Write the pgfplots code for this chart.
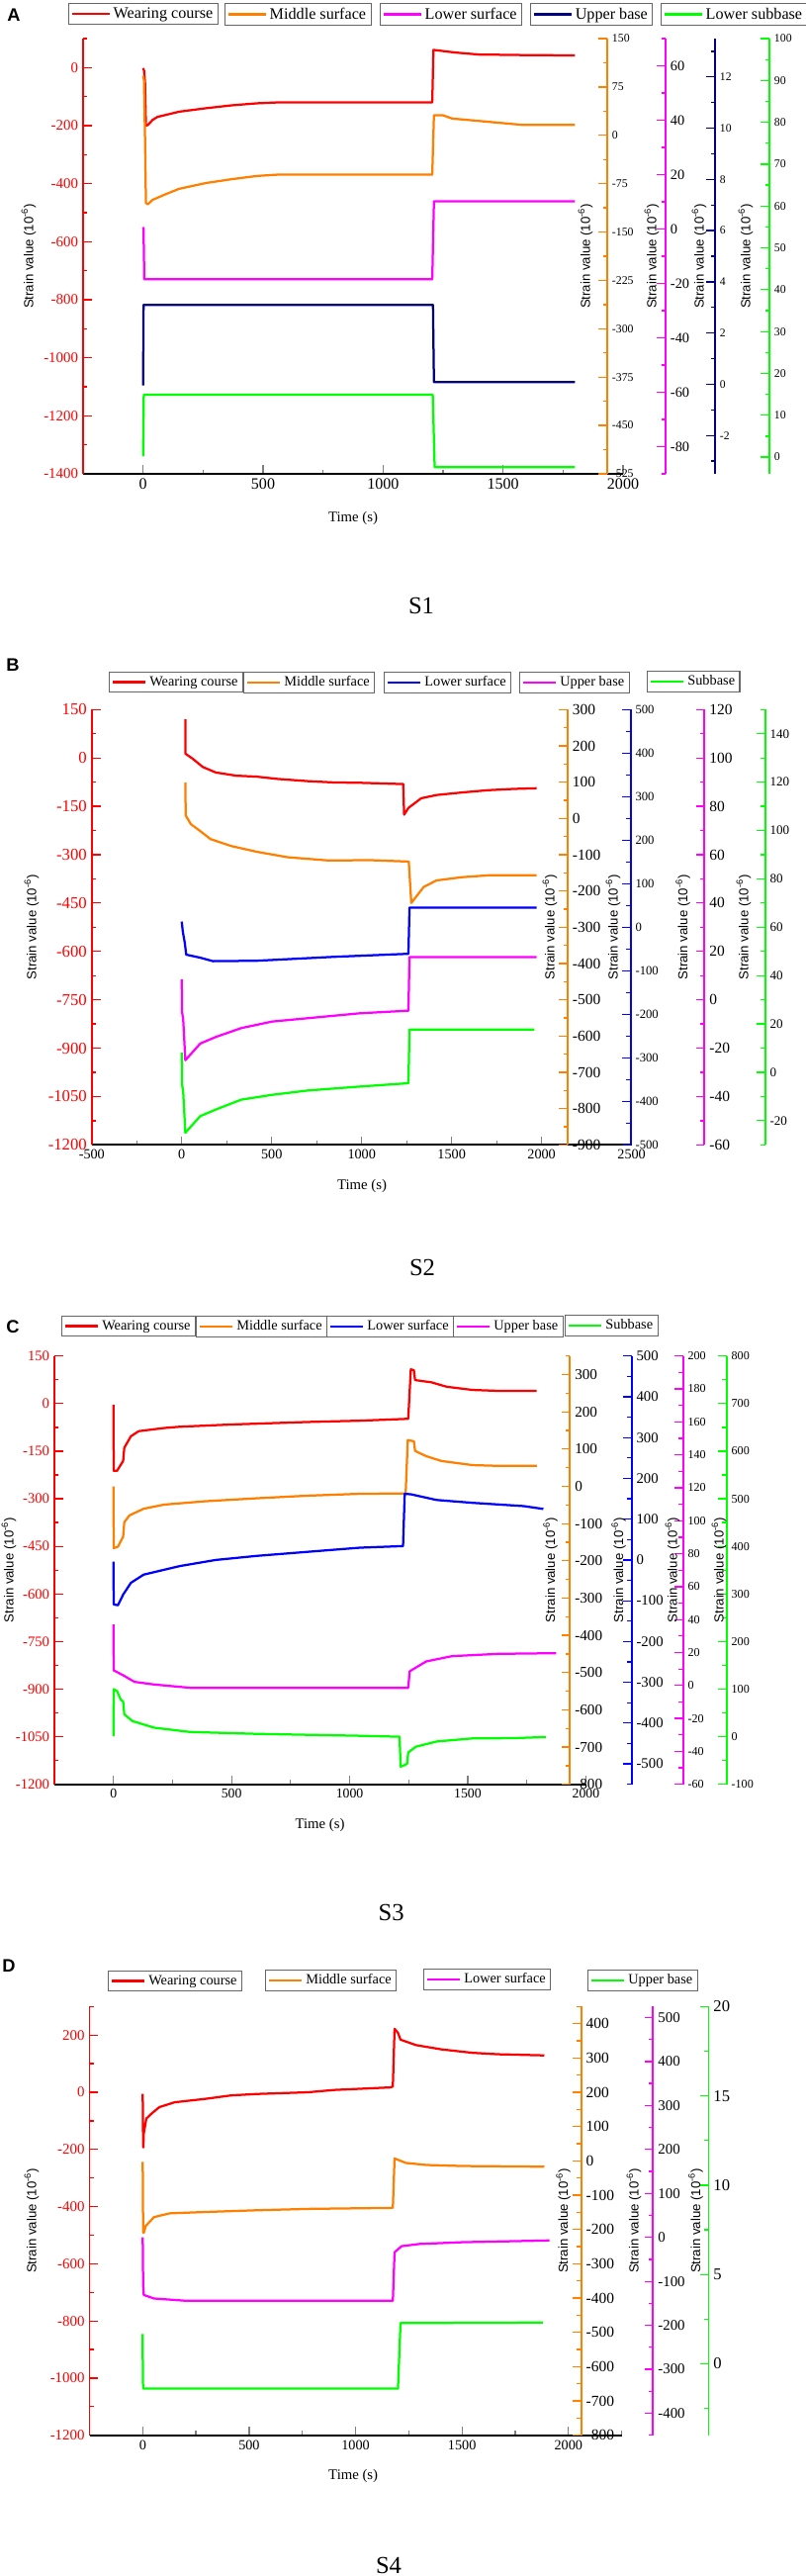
\documentclass[border=0pt]{standalone}
\usepackage{fontspec}
\setmainfont{Liberation Serif}
\newfontfamily\lsans{Liberation Sans}
\usepackage{pgfplots}
\pgfplotsset{compat=1.18}
\definecolor{cred}{RGB}{255,0,0}
\definecolor{corange}{RGB}{255,128,0}
\definecolor{cmag}{RGB}{255,0,255}
\definecolor{cnavy}{RGB}{0,0,128}
\definecolor{cblue}{RGB}{0,0,255}
\definecolor{cgreen}{RGB}{0,255,0}
\newcommand{\fs}[1]{\fontsize{#1}{#1}\selectfont}
\newlength\leglen
\newcommand{\legfs}{11.5}
\pgfplotsset{
  legend image code/.code={\draw[#1] (0mm,0mm) -- (\leglen,0mm);},
  common/.style={scale only axis, anchor=south west, tick align=inside,
    major tick length=2.2mm, minor tick length=1.1mm,
    tick style={line width=0.9pt},
    axis line style={line width=1.3pt},
    scaled ticks=false,
    /pgf/number format/assume math mode=true,
    /pgf/number format/1000 sep={},
    legend style={anchor=north west, draw=black!60, line width=0.8pt,
      inner xsep=1.5pt, inner ysep=1pt, font=\fs{\legfs}, cells={anchor=west}},
    ylabel={Strain value (10\textsuperscript{-6})},
  },
  rax/.style n args={3}{common, axis x line=none, xtick=\empty, axis y line*=right,
    y axis line style={#1}, ytick style={#1},
    every axis y label/.style={at={(axis description cs:#2,0.5)}, rotate=90, anchor=center, font=\lsans\fs{9.4}},
    yticklabel style={font=\fs{#3}},
  },
  mainax/.style n args={5}{common, axis x line*=bottom, axis y line*=left,
    y axis line style={cred}, ytick style={cred}, yticklabel style={text=cred, font=\fs{#2}},
    xticklabel style={font=\fs{#3}},
    xtick distance=500, minor x tick num=1,
    xlabel={Time (s)},
    every axis y label/.style={at={(axis description cs:#1,0.5)}, rotate=90, anchor=center, font=\lsans\fs{9.4}},
    every axis x label/.style={at={(axis description cs:#4,#5)}, anchor=center, font=\fs{10.5}},
  },
  dat/.style={line width=1.6pt, line join=round},
}
\begin{document}
\begin{tikzpicture}
\path[use as bounding box] (0,0) rectangle (203.5mm,-651mm);

% ================= Panel A =================
\setlength{\leglen}{9.5mm}
\renewcommand{\legfs}{11.5}
\node[font=\lsans\bfseries\fs{13}] at (3.5mm,-3.75mm) {A};
\node[font=\fs{17.5}] at (106.5mm,-153mm) {S1};
\begin{axis}[mainax={-0.1007}{10.6}{11.4}{0.5}{-0.1023}, at={(21mm,-119.75mm)}, width=136.5mm, height=110mm,
  xmin=-250, xmax=2000, ymin=-1400, ymax=100, ytick distance=200, minor y tick num=1,
  legend style={at={(axis description cs:-0.0275,1.0818)}}]
\addplot[dat, cred] coordinates {(0,-2) (4,-10) (8,-50) (12,-200) (20,-198) (40,-180) (60,-170) (90,-164) (150,-152) (262,-140) (370,-130) (476,-123) (561,-120) (800,-120) (1205,-120) (1210,61) (1300,52) (1400,45) (1600,43) (1800,42)};
\addlegendentry{Wearing course}
\end{axis}
\begin{axis}[rax={corange}{0.9585}{8.4}, at={(21mm,-119.75mm)}, width=132.5mm, height=110mm,
  xmin=-250, xmax=1934.1, ymin=-525, ymax=150, ytick distance=75, minor y tick num=1,
  legend style={at={(axis description cs:0.2698,1.0818)}}]
\addplot[dat, corange] coordinates {(0,92) (4,85) (8,0) (12,-105) (20,-107) (40,-100) (90,-92) (150,-83) (262,-74) (370,-68) (476,-63) (561,-61) (1205,-61) (1212,31) (1250,31) (1288,26) (1437,21) (1585,16) (1800,16)};
\addlegendentry{Middle surface}
\end{axis}
\begin{axis}[rax={cmag}{0.9762}{10.2}, at={(21mm,-119.75mm)}, width=147.25mm, height=110mm,
  xmin=-250, xmax=2177.2, ymin=-90, ymax=70, ytick distance=20, minor y tick num=1,
  legend style={at={(axis description cs:0.5093,1.0818)}}]
\addplot[dat, cmag] coordinates {(0,0.7) (2,0) (5,-18.5) (1205,-18.5) (1212,10.2) (1800,10.2)};
\addlegendentry{Lower surface}
\end{axis}
\begin{axis}[rax={cnavy}{0.9750}{8.3}, at={(21mm,-119.75mm)}, width=159.75mm, height=110mm,
  xmin=-250, xmax=2383.2, ymin=-3.5, ymax=13.5, ytick distance=2, minor y tick num=1,
  legend style={at={(axis description cs:0.7074,1.0818)}}]
\addplot[dat, cnavy] coordinates {(0,-0.05) (2,3.1) (1208,3.1) (1212,0.08) (1800,0.08)};
\addlegendentry{Upper base}
\end{axis}
\begin{axis}[rax={cgreen}{0.9654}{8.4}, at={(21mm,-119.75mm)}, width=173.5mm, height=110mm,
  xmin=-250, xmax=2609.8, ymin=-4, ymax=100, ytick distance=10, minor y tick num=1,
  legend style={at={(axis description cs:0.8415,1.0818)}}]
\addplot[dat, cgreen] coordinates {(0,0.2) (3,14.9) (1207,14.9) (1215,-2.4) (1800,-2.4)};
\addlegendentry{Lower subbase}
\end{axis}

% ================= Panel B =================
\setlength{\leglen}{8.4mm}
\renewcommand{\legfs}{10.2}
\node[font=\lsans\bfseries\fs{13}] at (3.25mm,-168mm) {B};
\node[font=\fs{17.5}] at (106.75mm,-320.25mm) {S2};
\begin{axis}[mainax={-0.1114}{11.9}{10.1}{0.5006}{-0.0948}, at={(23.2mm,-289.325mm)}, width=136.45mm, height=110mm,
  xmin=-500, xmax=2500, ymin=-1200, ymax=150, ytick distance=150, minor y tick num=1,
  legend style={at={(axis description cs:0.0315,1.0870)}}]
\addplot[dat, cred] coordinates {(20,120) (21,13) (60,-2) (117,-28) (189,-45) (303,-55) (417,-58) (531,-65) (703,-72) (846,-76) (988,-77) (1231,-81) (1236,-176) (1260,-155) (1331,-125) (1416,-115) (1559,-107) (1702,-100) (1845,-96) (1973,-94)};
\addlegendentry{Wearing course}
\end{axis}
\begin{axis}[rax={corange}{0.9626}{11}, at={(23.2mm,-289.325mm)}, width=120.3mm, height=110mm,
  xmin=-500, xmax=2145.1, ymin=-900, ymax=300, ytick distance=100, minor y tick num=1,
  legend style={at={(axis description cs:0.3184,1.0870)}}]
\addplot[dat, corange] coordinates {(20,99) (22,8) (51,-16) (103,-35) (160,-57) (274,-76) (417,-92) (588,-107) (817,-116) (1045,-115) (1262,-119) (1276,-233) (1345,-189) (1416,-171) (1559,-162) (1702,-157) (1973,-157)};
\addlegendentry{Middle surface}
\end{axis}
\begin{axis}[rax={cblue}{0.9677}{9}, at={(23.2mm,-289.325mm)}, width=136.2mm, height=110mm,
  xmin=-500, xmax=2494.7, ymin=-500, ymax=500, ytick distance=100, minor y tick num=1,
  legend style={at={(axis description cs:0.5419,1.0870)}}]
\addplot[dat, cblue] coordinates {(0,13) (6,-10) (17,-36) (25,-63) (103,-70) (174,-78) (417,-77) (846,-68) (1260,-61) (1266,45) (1973,45)};
\addlegendentry{Lower surface}
\end{axis}
\begin{axis}[rax={cmag}{0.9648}{11}, at={(23.2mm,-289.325mm)}, width=154.9mm, height=110mm,
  xmin=-500, xmax=2905.9, ymin=-60, ymax=120, ytick distance=20, minor y tick num=1,
  legend style={at={(axis description cs:0.6975,1.0870)}}]
\addplot[dat, cmag] coordinates {(0,8.5) (2,-5.2) (8,-7.9) (20,-25) (103,-18.1) (189,-15.4) (331,-11.7) (503,-9) (703,-7.6) (988,-5.6) (1260,-4.5) (1266,17.7) (1973,17.7)};
\addlegendentry{Upper base}
\end{axis}
\begin{axis}[rax={cgreen}{0.9683}{9.3}, at={(23.2mm,-289.325mm)}, width=170.2mm, height=110mm,
  xmin=-500, xmax=3242.3, ymin=-30, ymax=150, ytick distance=20, minor y tick num=1,
  legend style={at={(axis description cs:0.8243,1.0893)}}]
\addplot[dat, cgreen] coordinates {(0,8.2) (2,-5.2) (8,-7.9) (20,-25) (103,-18.1) (189,-15.4) (331,-11.3) (503,-9.3) (703,-7.5) (988,-5.9) (1260,-4.5) (1266,17.7) (1960,17.7)};
\addlegendentry{Subbase}
\end{axis}

% ================= Panel C =================
\node[font=\lsans\bfseries\fs{13}] at (3.25mm,-335.175mm) {C};
\node[font=\fs{17.5}] at (98.9mm,-483.25mm) {S3};
\begin{axis}[mainax={-0.0856}{10.4}{9.8}{0.4996}{-0.0954}, at={(13.75mm,-450.925mm)}, width=134.35mm, height=108.25mm,
  xmin=-250, xmax=2000, ymin=-1200, ymax=150, ytick distance=150, minor y tick num=1,
  legend style={at={(axis description cs:0.0130,1.0940)}}]
\addplot[dat, cred] coordinates {(0,-4) (1,-212) (15,-212) (41,-181) (46,-139) (74,-103) (107,-87) (215,-77) (281,-73) (498,-66) (824,-58) (1042,-54) (1248,-48) (1259,108) (1272,105) (1277,74) (1346,67) (1411,53) (1520,43) (1629,40) (1792,40)};
\addlegendentry{Wearing course}
\end{axis}
\begin{axis}[rax={corange}{0.9622}{10.8}, at={(13.75mm,-450.925mm)}, width=130.325mm, height=108.25mm,
  xmin=-250, xmax=1932.5, ymin=-800, ymax=350, ytick distance=100, minor y tick num=1,
  legend style={at={(axis description cs:0.2743,1.0940)}}]
\addplot[dat, corange] coordinates {(0,0) (1,-166) (19,-162) (41,-135) (46,-96) (68,-78) (128,-60) (215,-49) (389,-40) (607,-32) (824,-25) (1042,-20) (1237,-19) (1246,124) (1272,121) (1277,95) (1324,81) (1389,68) (1520,57) (1629,55) (1792,55)};
\addlegendentry{Middle surface}
\end{axis}
\begin{axis}[rax={cblue}{0.9777}{10.5}, at={(13.75mm,-450.925mm)}, width=145.9mm, height=108.25mm,
  xmin=-250, xmax=2193.4, ymin=-550, ymax=500, ytick distance=100, minor y tick num=1,
  legend style={at={(axis description cs:0.4712,1.0940)}}]
\addplot[dat, cblue] coordinates {(0,-4) (1,-109) (19,-111) (41,-85) (74,-56) (128,-36) (215,-24) (281,-15) (433,0) (607,10) (824,20) (1042,30) (1226,34) (1233,162) (1259,161) (1368,147) (1520,140) (1737,132) (1820,125)};
\addlegendentry{Lower surface}
\end{axis}
\begin{axis}[rax={cmag}{0.9833}{8.6}, at={(13.75mm,-450.925mm)}, width=158.9mm, height=108.25mm,
  xmin=-250, xmax=2411.1, ymin=-60, ymax=200, ytick distance=20, minor y tick num=1,
  legend style={at={(axis description cs:0.6340,1.0940)}}]
\addplot[dat, cmag] coordinates {(0,37) (1,9.2) (41,6.2) (89,2.2) (172,0.6) (324,-1.4) (1248,-1.4) (1254,8.6) (1324,14.6) (1433,17.8) (1629,19.2) (1874,19.6)};
\addlegendentry{Upper base}
\end{axis}
\begin{axis}[rax={cgreen}{0.9887}{8.6}, at={(13.75mm,-450.925mm)}, width=169.925mm, height=108.25mm,
  xmin=-250, xmax=2595.7, ymin=-100, ymax=800, ytick distance=100, minor y tick num=1,
  legend style={at={(axis description cs:0.7592,1.0963)}}]
\addplot[dat, cgreen] coordinates {(0,1.4) (1,100) (15,96) (31,78) (41,74) (46,47) (80,33) (172,19) (324,10) (607,6) (1042,2) (1211,0) (1216,-63) (1243,-57) (1248,-33) (1280,-21) (1368,-10) (1520,-3.5) (1692,-3) (1831,-0.6)};
\addlegendentry{Subbase}
\end{axis}

% ================= Panel D =================
\node[font=\lsans\bfseries\fs{13}] at (2.25mm,-496.825mm) {D};
\node[font=\fs{17.5}] at (98.25mm,-648.25mm) {S4};
\begin{axis}[mainax={-0.1087}{10.6}{10.1}{0.4956}{-0.0946}, at={(22.625mm,-615.425mm)}, width=134.53mm, height=108.35mm,
  xmin=-250, xmax=2250, ymin=-1200, ymax=300, ytick distance=200, minor y tick num=1,
  legend style={at={(axis description cs:0.0344,1.0838)}}]
\addplot[dat, cred] coordinates {(0,-6) (2,-190) (3,-193) (5,-144) (17,-92) (41,-75) (78,-52) (150,-35) (295,-23) (415,-11) (536,-6) (777,0) (898,8) (1163,17) (1175,20) (1183,222) (1199,208) (1211,184) (1284,165) (1404,150) (1549,138) (1669,133) (1887,129)};
\addlegendentry{Wearing course}
\end{axis}
\begin{axis}[rax={corange}{0.9636}{11}, at={(22.625mm,-615.425mm)}, width=124.3mm, height=108.35mm,
  xmin=-250, xmax=2059.9, ymin=-800, ymax=450, ytick distance=100, minor y tick num=1,
  legend style={at={(axis description cs:0.3570,1.0861)}}]
\addplot[dat, corange] coordinates {(0,-3) (2,-209) (5,-210) (14,-190) (53,-164) (126,-153) (295,-149) (536,-144) (777,-140) (1175,-137) (1183,7) (1236,-6) (1332,-12) (1500,-15) (1887,-17)};
\addlegendentry{Middle surface}
\end{axis}
\begin{axis}[rax={cmag}{0.9660}{10.6}, at={(22.625mm,-615.425mm)}, width=142.475mm, height=108.35mm,
  xmin=-250, xmax=2397.6, ymin=-450, ymax=525, ytick distance=100, minor y tick num=1,
  legend style={at={(axis description cs:0.5922,1.0884)}}]
\addplot[dat, cmag] coordinates {(0,0) (2,-109) (5,-131) (53,-139) (198,-144) (1175,-144) (1183,-34) (1216,-20) (1300,-15) (1500,-11) (1911,-7)};
\addlegendentry{Lower surface}
\end{axis}
\begin{axis}[rax={cgreen}{0.9792}{11.8}, at={(22.625mm,-615.425mm)}, width=156.5mm, height=108.35mm,
  xmin=-250, xmax=2658.2, ymin=-4, ymax=20, ytick distance=5, minor y tick num=1,
  legend style={at={(axis description cs:0.8043,1.0861)}}]
\addplot[dat, cgreen] coordinates {(0,1.67) (0.5,-0.97) (3,-1.39) (1199,-1.39) (1211,2.28) (1880,2.31)};
\addlegendentry{Upper base}
\end{axis}
\end{tikzpicture}
\end{document}
